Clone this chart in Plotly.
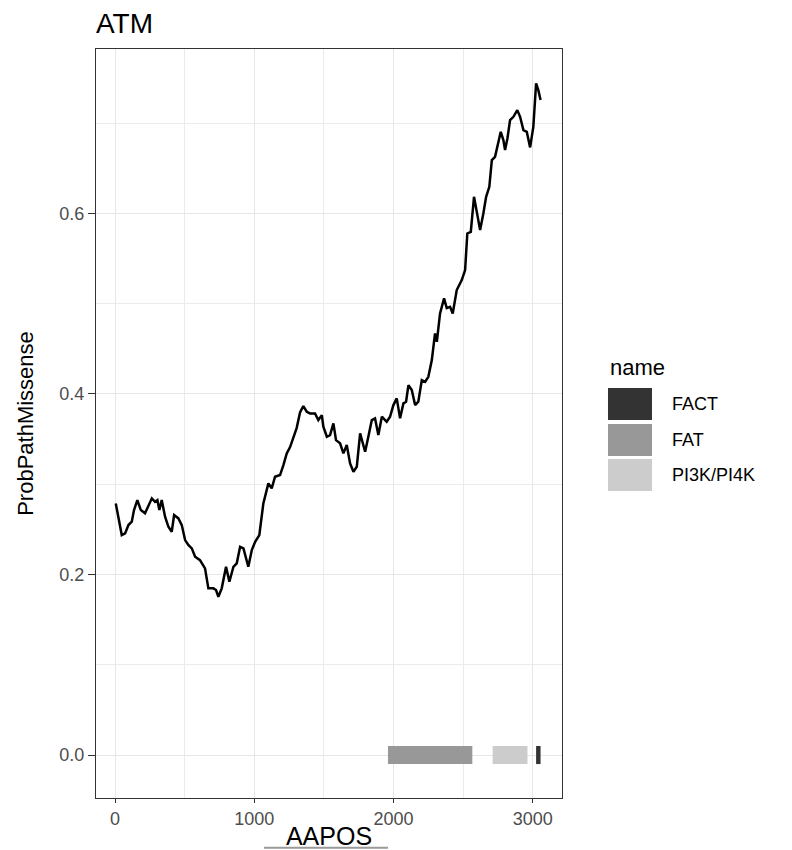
import plotly.graph_objects as go

# ---- data ----
aapos = [5, 25, 48, 72, 96, 120, 136, 160, 185, 215, 251, 264, 287, 304, 318, 335, 359, 383, 407, 424,
         455, 479, 503, 526, 551, 575, 610, 646, 670, 706, 725, 742, 766, 797, 821, 850, 874, 898, 922, 957,
         982, 1006, 1036, 1065, 1101, 1125, 1149, 1185, 1209, 1233, 1257, 1278, 1304, 1329, 1352, 1377, 1401, 1436, 1460, 1485,
         1496, 1521, 1544, 1568, 1587, 1616, 1640, 1664, 1688, 1712, 1736, 1760, 1796, 1819, 1844, 1867, 1891, 1916, 1951, 1975,
         1999, 2023, 2047, 2071, 2090, 2107, 2131, 2155, 2178, 2203, 2227, 2250, 2275, 2298, 2311, 2334, 2363, 2382, 2406, 2425,
         2454, 2490, 2514, 2530, 2555, 2578, 2602, 2622, 2645, 2665, 2688, 2706, 2729, 2753, 2770, 2789, 2801, 2818, 2837, 2861,
         2889, 2909, 2933, 2957, 2981, 3004, 3024, 3040, 3056]
prob = [0.2787, 0.2602, 0.2436, 0.2455, 0.2547, 0.2584, 0.2713, 0.2824, 0.2713, 0.2677, 0.2787, 0.2843, 0.2805, 0.2824, 0.2713, 0.2824, 0.2639, 0.2528, 0.2473, 0.2658,
        0.2621, 0.2547, 0.2381, 0.2326, 0.2289, 0.2196, 0.2159, 0.2068, 0.1846, 0.1846, 0.1827, 0.1753, 0.1846, 0.2085, 0.1919, 0.2085, 0.2123, 0.2307, 0.2289, 0.2085,
        0.2270, 0.2362, 0.2436, 0.2787, 0.3009, 0.2954, 0.3082, 0.3101, 0.3212, 0.3341, 0.3411, 0.3511, 0.3621, 0.3798, 0.3865, 0.3802, 0.3784, 0.3784, 0.3710, 0.3765,
        0.3636, 0.3525, 0.3544, 0.3673, 0.3488, 0.3452, 0.3341, 0.3433, 0.3230, 0.3137, 0.3193, 0.3563, 0.3359, 0.3525, 0.3710, 0.3729, 0.3544, 0.3747, 0.3691, 0.3747,
        0.3876, 0.3950, 0.3729, 0.3895, 0.3913, 0.4097, 0.4042, 0.3876, 0.3913, 0.4153, 0.4134, 0.4189, 0.4374, 0.4670, 0.4577, 0.4891, 0.5058, 0.4950, 0.4965, 0.4891,
        0.5150, 0.5260, 0.5371, 0.5777, 0.5795, 0.6183, 0.5999, 0.5814, 0.5999, 0.6183, 0.6293, 0.6589, 0.6626, 0.6792, 0.6903, 0.6811, 0.6700, 0.6829, 0.7032, 0.7069,
        0.7143, 0.7069, 0.6921, 0.6903, 0.6730, 0.6958, 0.7439, 0.7364, 0.7254]

domain_names = ["FACT", "FAT", "PI3K/PI4K"]
domain_start = [3024, 1960, 2712]
domain_end = [3056, 2566, 2962]
domain_colors = ["#333333", "#989898", "#CCCCCC"]
domain_halfheight = 0.01

x_ticks = [0, 1000, 2000, 3000]
y_ticks = [0.0, 0.2, 0.4, 0.6]

FONT = "Liberation Sans, Arial, Helvetica, sans-serif"

fig = go.Figure()

fig.add_trace(go.Bar(
    y=[0] * len(domain_names),
    base=domain_start,
    x=[e - s for s, e in zip(domain_start, domain_end)],
    orientation="h",
    width=2 * domain_halfheight,
    marker=dict(color=domain_colors, line=dict(width=0)),
    text=domain_names, textposition="none",
    showlegend=False, hoverinfo="text",
))

fig.add_trace(go.Scatter(
    x=aapos, y=prob, mode="lines",
    line=dict(color="black", width=2.5),
    showlegend=False,
))

axis_common = dict(
    automargin=False,
    showline=True, mirror=True, linecolor="#333333", linewidth=1,
    showgrid=True, gridcolor="#E6E6E6", gridwidth=1.4,
    zeroline=False,
    ticks="outside", tickcolor="#333333", tickwidth=1,
    tickfont=dict(family=FONT, size=18, color="#4D4D4D"),
    minor=dict(showgrid=True, gridcolor="#EBEBEB", gridwidth=1, ticks=""),
)

fig.update_layout(
    width=792, height=850,
    margin=dict(l=96, r=230, t=49, b=52),
    plot_bgcolor="white", paper_bgcolor="white",
    barmode="overlay",
    title=dict(text="ATM", x=0, xref="paper", xanchor="left",
               y=1 - 23 / 850, yref="container", yanchor="middle",
               font=dict(family=FONT, size=28, color="black")),
    xaxis=dict(range=[-137, 3210], tickvals=x_ticks, ticklen=4,
               minor_tickvals=[500, 1500, 2500],
               title=dict(text="AAPOS", font=dict(family=FONT, size=25, color="black"), standoff=7),
               **axis_common),
    yaxis=dict(range=[-0.0476, 0.782], tickvals=y_ticks, ticktext=[f"{v:.1f}" for v in y_ticks],
               ticklen=7, minor_tickvals=[0.1, 0.3, 0.5, 0.7],
               title=dict(text="ProbPathMissense", font=dict(family=FONT, size=22, color="black"), standoff=19),
               **axis_common),
    showlegend=False,
)

# manual legend (ggplot style) built from the domain lists
order = sorted(range(len(domain_names)), key=lambda i: domain_names[i])
key_x0, key_x1 = 1.0987, 1.1931
key_tops = [0.5474, 0.4993, 0.4526]
key_h = 0.0427
fig.add_annotation(text="name", xref="paper", yref="paper", x=1.0987, y=0.5754,
                   xanchor="left", yanchor="middle", showarrow=False,
                   font=dict(family=FONT, size=22, color="black"))
for k, i in enumerate(order):
    top = key_tops[k]
    fig.add_shape(type="rect", xref="paper", yref="paper",
                  x0=key_x0, x1=key_x1, y0=top - key_h, y1=top,
                  fillcolor=domain_colors[i], line=dict(width=0))
    fig.add_annotation(text=domain_names[i], xref="paper", yref="paper",
                       x=1.2318, y=top - key_h / 2, xanchor="left", yanchor="middle",
                       showarrow=False, font=dict(family=FONT, size=18, color="black"))

# thin grey rule under the x-axis title, as seen in the reference
fig.add_shape(type="line", xref="paper", yref="paper",
              x0=0.3605, x1=0.6266, y0=-0.0664, y1=-0.0664,
              line=dict(color="#9A9A9A", width=2))

fig.write_html("out.html")
